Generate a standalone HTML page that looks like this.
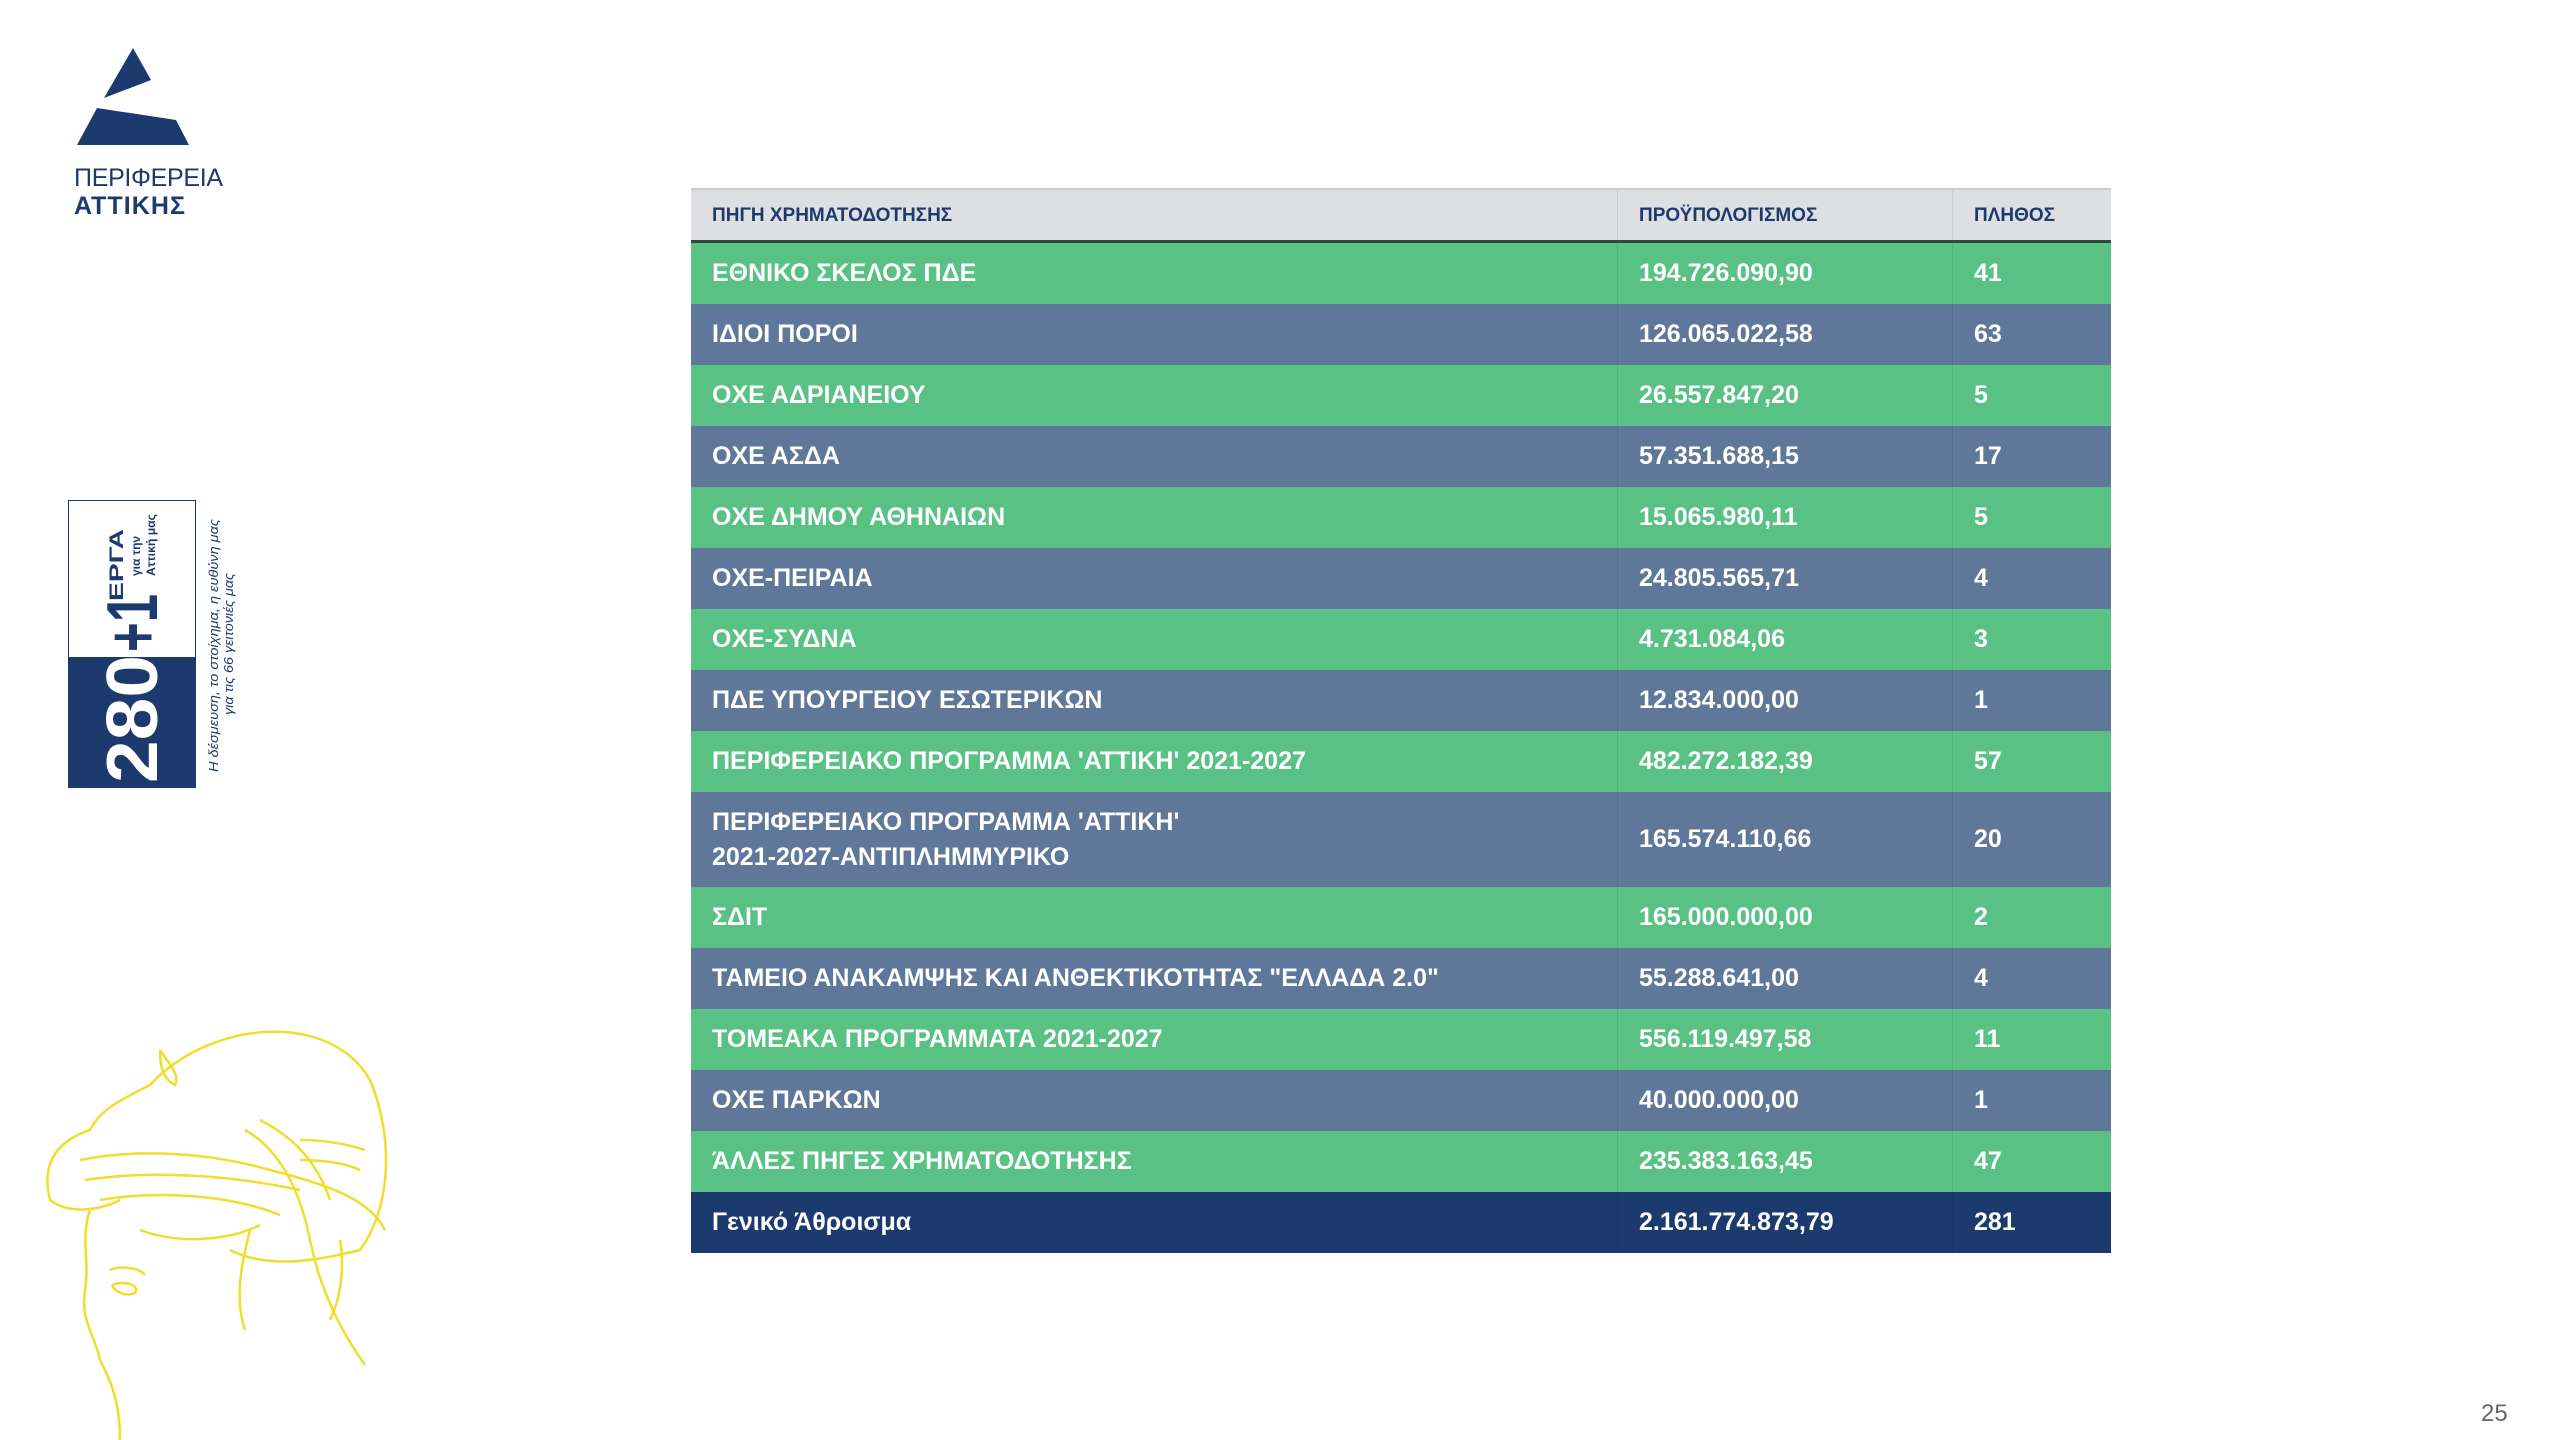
<!DOCTYPE html>
<html><head><meta charset="utf-8">
<style>
html,body{margin:0;padding:0;background:#fff;}
body{width:2560px;height:1440px;position:relative;overflow:hidden;font-family:"Liberation Sans","DejaVu Sans",sans-serif;}
#tbl{position:absolute;left:691px;top:188px;width:1420px;}
.r{display:flex;color:#fff;font-weight:bold;font-size:25px;align-items:center;}
.r div{box-sizing:border-box;height:100%;display:flex;align-items:center;padding-left:21px;line-height:35px;}
.c1{width:927px;border-right:1px solid rgba(0,0,0,0.08);}
.c2{width:335px;border-right:1px solid rgba(0,0,0,0.08);}
.c3{width:158px;}
.h{height:55px;background:#dedfe0;color:#1c3a6e;font-size:19px;border-bottom:3px solid #2d4a3a;box-sizing:border-box;border-top:2px solid #ccc;}
.h div{border-right:1px solid #ccc;}
.g{background:#59c184;height:61px;}
.b{background:#5f7799;height:61px;}
.t{background:#1c3a6e;height:61px;}
.dbl{height:95px;}
</style></head><body>

<svg style="position:absolute;left:0;top:0" width="260" height="240">
<polygon points="133,48 151,80 104,98" fill="#1c3a6e"/>
<polygon points="97,108 176,120 189,145 77,145" fill="#1c3a6e"/>
<text x="74" y="186" font-family="Liberation Sans" font-size="25" fill="#1c3a6e" textLength="149">ΠΕΡΙΦΕΡΕΙΑ</text>
<text x="74" y="214" font-family="Liberation Sans" font-weight="bold" font-size="25" fill="#1c3a6e" textLength="111">ΑΤΤΙΚΗΣ</text>
</svg>

<div style="position:absolute;left:68px;top:500px;width:128px;height:288px;border:1px solid #1c3a6e;box-sizing:border-box;background:#fff"></div>
<div style="position:absolute;left:68px;top:657px;width:128px;height:131px;background:#1c3a6e"></div>
<svg style="position:absolute;left:0;top:0" width="260" height="800">
<text transform="translate(157,783) rotate(-90)" font-family="Liberation Sans" font-weight="bold" font-size="72" fill="#fff" textLength="128" lengthAdjust="spacingAndGlyphs">280</text>
<text transform="translate(157,652) rotate(-90)" font-family="Liberation Sans" font-weight="bold" font-size="72" fill="#1c3a6e" textLength="58" lengthAdjust="spacingAndGlyphs">+1</text>
<text transform="translate(123,601) rotate(-90)" font-family="Liberation Sans" font-weight="bold" font-size="19" fill="#1c3a6e" textLength="72" lengthAdjust="spacingAndGlyphs">ΕΡΓΑ</text>
<text transform="translate(140,576) rotate(-90)" font-family="Liberation Sans" font-weight="bold" font-size="12" fill="#1c3a6e">για την</text>
<text transform="translate(155,576) rotate(-90)" font-family="Liberation Sans" font-weight="bold" font-size="12" fill="#1c3a6e" textLength="62" lengthAdjust="spacingAndGlyphs">Αττική μας</text>
<text transform="translate(218,772) rotate(-90)" font-family="Liberation Sans" font-style="italic" font-size="13" fill="#1c3a6e" textLength="253" lengthAdjust="spacingAndGlyphs">Η δέσμευση, το στοίχημα, η ευθύνη μας</text>
<text transform="translate(233,715) rotate(-90)" font-family="Liberation Sans" font-style="italic" font-size="13" fill="#1c3a6e" textLength="142" lengthAdjust="spacingAndGlyphs">για τις 66 γειτονιές μας</text>
</svg>

<svg style="position:absolute;left:0;top:1000px" width="420" height="440" fill="none" stroke="#f2dc2c" stroke-width="2.5">
<path d="M150,85 C210,20 330,10 370,80 C395,140 390,210 360,250 C320,260 270,270 230,250"/>
<path d="M150,85 C120,100 100,110 90,130 C60,140 40,160 50,200 C70,215 100,210 120,200"/>
<path d="M80,160 C130,150 200,150 270,170 C330,185 370,200 385,230"/>
<path d="M85,180 C150,170 230,175 300,190"/>
<path d="M100,200 C160,190 230,195 280,215"/>
<path d="M90,210 C80,240 90,260 85,290 C80,320 95,335 100,360"/>
<path d="M100,360 C110,380 120,400 120,440"/>
<path d="M110,270 C120,265 140,268 145,275"/>
<path d="M112,285 C125,280 140,285 135,293 C125,297 115,292 112,285"/>
<path d="M245,130 C280,150 300,190 310,240 C320,290 340,330 365,365"/>
<path d="M260,120 C300,140 320,170 330,200"/>
<path d="M300,140 C330,140 350,145 365,150"/>
<path d="M300,160 C330,160 350,165 360,170"/>
<path d="M160,50 C170,65 180,75 175,85 C165,80 160,70 160,50"/>
<path d="M250,230 C240,270 235,300 245,330"/>
<path d="M340,240 C345,270 340,300 330,320"/>
<path d="M140,230 C180,245 230,240 260,225"/>
</svg>

<div id="tbl">
<div class="r h"><div class="c1">ΠΗΓΗ ΧΡΗΜΑΤΟΔΟΤΗΣΗΣ</div><div class="c2">ΠΡΟΫΠΟΛΟΓΙΣΜΟΣ</div><div class="c3" style="border:none">ΠΛΗΘΟΣ</div></div>
<div class="r g"><div class="c1">ΕΘΝΙΚΟ ΣΚΕΛΟΣ ΠΔΕ</div><div class="c2">194.726.090,90</div><div class="c3">41</div></div>
<div class="r b"><div class="c1">ΙΔΙΟΙ ΠΟΡΟΙ</div><div class="c2">126.065.022,58</div><div class="c3">63</div></div>
<div class="r g"><div class="c1">ΟΧΕ ΑΔΡΙΑΝΕΙΟΥ</div><div class="c2">26.557.847,20</div><div class="c3">5</div></div>
<div class="r b"><div class="c1">ΟΧΕ ΑΣΔΑ</div><div class="c2">57.351.688,15</div><div class="c3">17</div></div>
<div class="r g"><div class="c1">ΟΧΕ ΔΗΜΟΥ ΑΘΗΝΑΙΩΝ</div><div class="c2">15.065.980,11</div><div class="c3">5</div></div>
<div class="r b"><div class="c1">ΟΧΕ-ΠΕΙΡΑΙΑ</div><div class="c2">24.805.565,71</div><div class="c3">4</div></div>
<div class="r g"><div class="c1">ΟΧΕ-ΣΥΔΝΑ</div><div class="c2">4.731.084,06</div><div class="c3">3</div></div>
<div class="r b"><div class="c1">ΠΔΕ ΥΠΟΥΡΓΕΙΟΥ ΕΣΩΤΕΡΙΚΩΝ</div><div class="c2">12.834.000,00</div><div class="c3">1</div></div>
<div class="r g"><div class="c1">ΠΕΡΙΦΕΡΕΙΑΚΟ ΠΡΟΓΡΑΜΜΑ 'ΑΤΤΙΚΗ' 2021-2027</div><div class="c2">482.272.182,39</div><div class="c3">57</div></div>
<div class="r b dbl"><div class="c1">ΠΕΡΙΦΕΡΕΙΑΚΟ ΠΡΟΓΡΑΜΜΑ 'ΑΤΤΙΚΗ'<br>2021-2027-ΑΝΤΙΠΛΗΜΜΥΡΙΚΟ</div><div class="c2">165.574.110,66</div><div class="c3">20</div></div>
<div class="r g"><div class="c1">ΣΔΙΤ</div><div class="c2">165.000.000,00</div><div class="c3">2</div></div>
<div class="r b"><div class="c1">ΤΑΜΕΙΟ ΑΝΑΚΑΜΨΗΣ ΚΑΙ ΑΝΘΕΚΤΙΚΟΤΗΤΑΣ "ΕΛΛΑΔΑ 2.0"</div><div class="c2">55.288.641,00</div><div class="c3">4</div></div>
<div class="r g"><div class="c1">ΤΟΜΕΑΚΑ ΠΡΟΓΡΑΜΜΑΤΑ 2021-2027</div><div class="c2">556.119.497,58</div><div class="c3">11</div></div>
<div class="r b"><div class="c1">ΟΧΕ ΠΑΡΚΩΝ</div><div class="c2">40.000.000,00</div><div class="c3">1</div></div>
<div class="r g"><div class="c1">ΆΛΛΕΣ ΠΗΓΕΣ ΧΡΗΜΑΤΟΔΟΤΗΣΗΣ</div><div class="c2">235.383.163,45</div><div class="c3">47</div></div>
<div class="r t"><div class="c1">Γενικό Άθροισμα</div><div class="c2">2.161.774.873,79</div><div class="c3">281</div></div>
</div>

<div style="position:absolute;left:2481px;top:1400px;font-size:24px;color:#666;">25</div>
</body></html>
